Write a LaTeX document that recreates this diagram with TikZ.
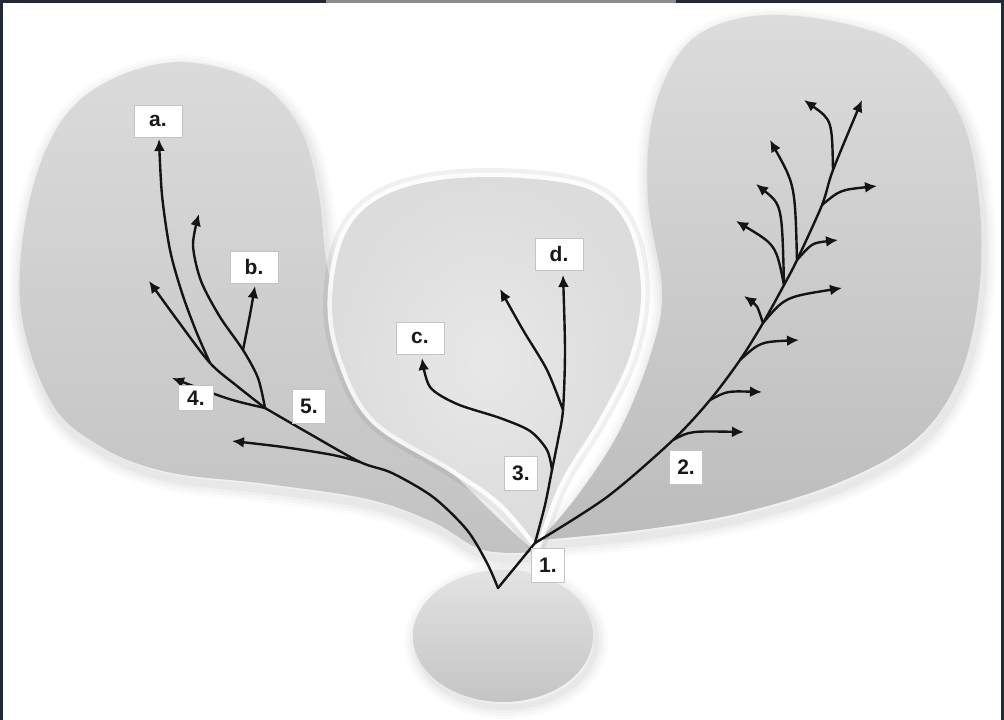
\documentclass[tikz,border=0pt]{standalone}
\usepackage{fontspec}
\setsansfont{Liberation Sans}
\usetikzlibrary{arrows.meta}

\definecolor{frameblue}{HTML}{232835}
\definecolor{boxline}{HTML}{C4C4C4}
\definecolor{leftTop}{HTML}{DBDBDB}
\definecolor{leftLow}{HTML}{C2C2C2}
\definecolor{rightTop}{HTML}{DCDCDC}
\definecolor{rightLow}{HTML}{BCBCBC}
\definecolor{midIn}{HTML}{E8E8E8}
\definecolor{midOut}{HTML}{DCDCDC}

\tikzset{
  stem/.style={line width=2.4pt, black!92, line cap=round, line join=round},
  branch/.style={stem, -{Latex[length=12pt, width=11pt]}},
  tag/.style={draw=boxline, line width=1pt, fill=white, text=black!90,
    font=\sffamily\bfseries\fontsize{21}{21}\selectfont,
    minimum width=33pt, minimum height=34pt, inner sep=0pt},
  lettertag/.style={tag, minimum width=48pt, minimum height=32pt},
  leftblob/.style={insert path={plot[smooth, tension=0.6] coordinates {
      (535,552) (483,550) (433,522) (367,499) (267,484) (167,472) (100,446)
      (50,400) (20,300) (35,180) (80,100) (165,63) (250,78) (298,125)
      (318,190) (330,280) (365,380) (440,460) (500,520) (535,552)} -- cycle}},
  rightblob/.style={insert path={plot[smooth, tension=0.6] coordinates {
      (540,540) (640,530) (740,513) (840,482) (915,440) (958,380) (978,300)
      (980,210) (962,120) (912,52) (850,25) (770,15) (710,28) (675,60)
      (652,120) (648,200) (662,290) (652,350) (620,430) (578,495) (540,540)} -- cycle}},
  midblob/.style={insert path={plot[smooth, tension=0.6] coordinates {
      (537,545) (560,483) (600,417) (630,355) (641,290) (627,225) (590,190)
      (520,178) (440,180) (380,198) (345,235) (332,300) (342,360) (375,420)
      (450,467) (500,502) (537,545)} -- cycle}},
}

\begin{document}
\begin{tikzpicture}[x=1pt, y=-1pt]
  % page and frame
  \useasboundingbox (0,0) rectangle (1004,720);
  \fill[white] (0,0) rectangle (1004,720);
  \fill[frameblue] (0,0) rectangle (2.5,720);
  \fill[frameblue] (0,0) rectangle (1004,3);
  \fill[frameblue] (1000.5,0) rectangle (1004,720);
  \fill[black!45] (326,0) rectangle (676,2.5);

  % bud at the bottom
  \foreach \w/\o in {24/0.015, 18/0.02, 12/0.025, 6/0.03}
    \draw[black, opacity=\o, line width=\w pt] (506,641) ellipse (90 and 66);
  \shade[top color=black!11, bottom color=black!23] (503,636) ellipse (90 and 66);

  % soft shadows under the lobes
  \foreach \w/\o in {26/0.015, 20/0.02, 14/0.025, 8/0.03} {
    \draw[black, opacity=\o, line width=\w pt, line join=round, shift={(2,6)}, leftblob];
    \draw[black, opacity=\o, line width=\w pt, line join=round, shift={(2,6)}, rightblob];
  }

  % lobes
  \shade[top color=leftTop, bottom color=leftLow, leftblob];
  \shade[top color=rightTop, bottom color=rightLow, rightblob];
  \draw[black, opacity=0.06, line width=18pt, line join=round, midblob];
  \draw[white, opacity=0.85, line width=9pt, line join=round, midblob];
  \shade[inner color=midIn, outer color=midOut, midblob];

  % junctions
  \coordinate (apex) at (498,588);
  \coordinate (j1) at (535,543);
  \coordinate (jl) at (360,462);
  \coordinate (j5) at (265,408);
  \coordinate (ja) at (210,363);
  \coordinate (jb) at (243,350);
  \coordinate (jc) at (552,470);
  \coordinate (jd) at (563,410);
  \coordinate (j2a) at (673,440);
  \coordinate (j2b) at (710,400);
  \coordinate (j2c) at (740,360);
  \coordinate (j2d) at (763,323);
  \coordinate (j2e) at (784,285);
  \coordinate (j2f) at (797,260);
  \coordinate (j2g) at (822,205);
  \coordinate (j2h) at (833,170);
  % tips
  \coordinate (tL) at (232,441);
  \coordinate (t4) at (172,378);
  \coordinate (tl) at (149,281);
  \coordinate (ta) at (159,139);
  \coordinate (tu) at (199,214);
  \coordinate (tb) at (255,286);
  \coordinate (tc) at (422,358);
  \coordinate (td) at (563,275);
  \coordinate (tv) at (500,289);
  \coordinate (t2) at (862,100);

  % left tree
  \draw[stem] plot[smooth] coordinates {(apex) (487,563) (467,530) (433,497) (392,473) (jl) (310,434) (j5)};
  \draw[branch] plot[smooth] coordinates {(jl) (333,455) (283,447) (tL)};
  \draw[branch] (j5) .. controls (230,400) .. (t4);
  \draw[branch] plot[smooth] coordinates {(j5) (237,386) (ja) (178,321) (tl)};
  \draw[branch] plot[smooth] coordinates {(ja) (196,331) (182,293) (170,250) (162,195) (ta)};
  \draw[branch] plot[smooth] coordinates {(j5) (258,378) (jb) (220,317) (201,281) (193,245) (tu)};
  \draw[branch] (jb) .. controls (250,315) .. (tb);

  % middle tree
  \draw[stem] (apex) -- (j1);
  \draw[branch] plot[smooth] coordinates {(j1) (545,505) (jc) (558,440) (jd) (565,350) (td)};
  \draw[branch] plot[smooth] coordinates {(jc) (547,450) (530,431) (500,418) (457,404) (430,387) (tc)};
  \draw[branch] plot[smooth] coordinates {(jd) (547,370) (523,330) (tv)};

  % right tree
  \draw[branch] plot[smooth] coordinates {(j1) (607,497) (j2a) (j2b) (j2c) (j2d) (j2e) (j2f) (j2g) (j2h) (t2)};
  \draw[branch] (j2a) .. controls (690,431) .. (744,432);
  \draw[branch] (j2b) .. controls (727,391) .. (762,392);
  \draw[branch] (j2c) .. controls (760,342) .. (799,340);
  \draw[branch] (j2d) .. controls (757,305) .. (744,296);
  \draw[branch] (j2d) .. controls (785,297) .. (842,288);
  \draw[branch] (j2e) .. controls (776,245) .. (736,221);
  \draw[branch] (j2e) .. controls (782,205) .. (756,184);
  \draw[branch] (j2f) .. controls (795,185) .. (770,140);
  \draw[branch] (j2f) .. controls (812,243) .. (838,240);
  \draw[branch] (j2g) .. controls (840,190) .. (877,186);
  \draw[branch] (j2h) .. controls (832,120) .. (804,100);

  % labels
  \node[lettertag] (a) at (158,121) {a.};
  \node[lettertag] (b) at (254,267) {b.};
  \node[lettertag] (c) at (420,338) {c.};
  \node[lettertag] (d) at (559,254) {d.};
  \node[tag] (n1) at (548,565) {1.};
  \node[tag] (n2) at (686,467) {2.};
  \node[tag] (n3) at (521,473) {3.};
  \node[tag, minimum width=35pt, minimum height=25pt] (n4) at (196,398) {4.};
  \node[tag] (n5) at (309,406) {5.};
\end{tikzpicture}
\end{document}
